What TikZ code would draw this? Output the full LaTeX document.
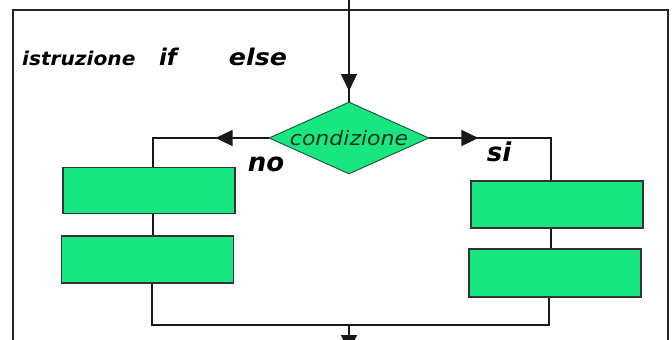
\documentclass[tikz,border=0pt]{standalone}
\usepackage{fontspec}
\setmainfont{DejaVu Sans}
\usetikzlibrary{shapes.geometric,arrows.meta,decorations.markings}
\definecolor{boxgreen}{RGB}{24,230,128}
\definecolor{edgegreen}{RGB}{30,80,50}
\definecolor{labelink}{RGB}{20,50,30}
\tikzset{
  headtip/.tip={Triangle[length=17pt,width=16pt]},
  frame/.style={draw=black!85,line width=1.5pt},
  flow/.style={draw=black!90,line width=1.3pt},
  blockbox/.style={draw=black!80,fill=boxgreen,line width=1.2pt,
    minimum width=172pt,minimum height=46pt,inner sep=0pt},
  testbox/.style={diamond,draw=edgegreen,fill=boxgreen,line width=0.9pt,
    aspect=2.2,inner sep=0pt,minimum width=160pt,minimum height=72pt,
    font=\itshape\fontsize{20}{20}\selectfont,text=labelink},
  midarrow/.style={postaction={decorate},decoration={markings,
    mark=at position #1 with {\arrow{headtip}}}},
  heading/.style={font=\bfseries\itshape\fontsize{23}{23}\selectfont,inner sep=0pt},
  branchlabel/.style={font=\bfseries\itshape\fontsize{26}{26}\selectfont,inner sep=0pt},
  small/.style={font=\bfseries\itshape\fontsize{19}{19}\selectfont,inner sep=0pt}
}
\begin{document}
\begin{tikzpicture}[x=1pt,y=-1pt]
\useasboundingbox (0,0) rectangle (672,340);
% outer frame, open at the bottom edge
\draw[frame] (13,350) -- (13,10) -- (668,10) -- (668,350);

% title
\node[small,anchor=west] (t1) at (22,58) {\scalebox{1.06}[1]{istruzione}};
\node[heading] (t2) at (168,57) {if};
\node[heading] (t3) at (258,57) {\scalebox{1.1}[1]{else}};

% decision and the two branches
\node[testbox] (cond) at (349,138) {\scalebox{1.1}[1]{condizione}};
\node[blockbox] (L1) at (149,190.5) {};
\node[blockbox,minimum height=47pt] (L2) at (147.5,259.5) {};
\node[blockbox,minimum height=47pt] (R1) at (557,204.5) {};
\node[blockbox,minimum height=48pt] (R2) at (555,273) {};

\node[branchlabel] (no) at (266,164) {no};
\node[branchlabel] (si) at (499,152) {si};

\coordinate (entry) at (349,0);
\coordinate (lcol) at (153,138);
\coordinate (rcol) at (551,138);
\coordinate (lbot) at (152,325);
\coordinate (rbot) at (549,325);
\coordinate (join) at (349,325);
\coordinate (exit) at (349,352);

% connectors
\draw[flow,midarrow=91pt] (entry) -- (cond.north);
\draw[flow,midarrow=53pt] (cond.west) -- (lcol) -- (lcol |- L1.north);
\draw[flow,midarrow=49pt] (cond.east) -- (rcol) -- (rcol |- R1.north);
\draw[flow] (L1.south -| lcol) -- (lcol |- L2.north);
\draw[flow] (R1.south -| rcol) -- (rcol |- R2.north);
\draw[flow] (L2.south -| lbot) -- (lbot) -- (rbot) -- (R2.south -| rbot);
\draw[flow,-{headtip}] (join) -- (exit);
\end{tikzpicture}
\end{document}
